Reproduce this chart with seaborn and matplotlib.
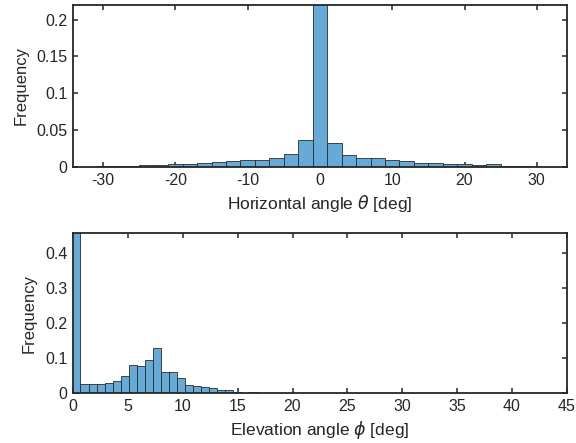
import matplotlib
matplotlib.use('Agg')
import matplotlib.pyplot as plt
import seaborn as sns

sns.set_style('ticks')
plt.rcParams['font.family'] = ['Liberation Sans', 'DejaVu Sans']
plt.rcParams['mathtext.fontset'] = 'dejavusans'
plt.rcParams['axes.unicode_minus'] = False

# ===============================
# Data
# ===============================
# Horizontal angle: 2 deg bins centred on even numbers
theta_centers = [-30, -28, -26, -24, -22, -20, -18, -16, -14, -12, -10, -8, -6, -4, -2,
                 0, 2, 4, 6, 8, 10, 12, 14, 16, 18, 20, 22, 24, 26, 28]
theta_freq = [0.0009, 0.0012, 0.0016, 0.0024, 0.0030, 0.0042, 0.0043, 0.0052, 0.0073, 0.0080,
              0.0093, 0.0098, 0.0125, 0.0170, 0.0362,
              0.75, 0.0325, 0.0157, 0.0125, 0.0120, 0.0098, 0.0075, 0.0057, 0.0060, 0.0045,
              0.0040, 0.0033, 0.0037, 0.0020, 0.0020]
theta_edges = [-31, -29, -27, -25, -23, -21, -19, -17, -15, -13, -11, -9, -7, -5, -3, -1,
               1, 3, 5, 7, 9, 11, 13, 15, 17, 19, 21, 23, 25, 27, 29]

# Elevation angle: bins of about 0.733 deg
phi_width = 0.733
phi_start = -0.066
phi_freq = [0.50, 0.0267, 0.0267, 0.0276, 0.0305, 0.0352, 0.0495, 0.0819, 0.0771, 0.0943,
            0.131, 0.060, 0.060, 0.0429, 0.025, 0.0225, 0.018, 0.014, 0.010, 0.0085,
            0.0048, 0.0025, 0.004, 0.0015, 0.001]

phi_edges = [phi_start + phi_width * i for i in range(len(phi_freq) + 1)]
phi_centers = [(a + b) / 2 for a, b in zip(phi_edges[:-1], phi_edges[1:])]

bar_color = '#66AAD7'
edge_color = '#2b2b2b'
spine_color = '#262626'

fig = plt.figure(figsize=(5.76, 4.43), dpi=100)
ax1 = fig.add_axes([0.127, 0.623, 0.857, 0.366])
ax2 = fig.add_axes([0.127, 0.112, 0.857, 0.361])

# ===============================
# 1. Horizontal angle histogram
# ===============================
sns.histplot(x=theta_centers, weights=theta_freq, bins=theta_edges, ax=ax1,
             color=bar_color, alpha=1, edgecolor=edge_color, linewidth=0.6)
ax1.set_xlim(-34.15, 34.15)
ax1.set_ylim(0, 0.22)
ax1.set_xticks([-30, -20, -10, 0, 10, 20, 30])
ax1.set_yticks([0, 0.05, 0.1, 0.15, 0.2])
ax1.set_yticklabels(['0', '0.05', '0.1', '0.15', '0.2'])
ax1.set_xlabel(r'Horizontal angle $\theta$ [deg]', fontsize=12.5, labelpad=4)
ax1.set_ylabel('Frequency', fontsize=12, labelpad=6)

# ===============================
# 2. Elevation angle histogram
# ===============================
sns.histplot(x=phi_centers, weights=phi_freq, bins=phi_edges, ax=ax2,
             color=bar_color, alpha=1, edgecolor=edge_color, linewidth=0.6)
ax2.set_xlim(0, 45)
ax2.set_ylim(0, 0.457)
ax2.set_xticks(range(0, 46, 5))
ax2.set_yticks([0, 0.1, 0.2, 0.3, 0.4])
ax2.set_yticklabels(['0', '0.1', '0.2', '0.3', '0.4'])
ax2.set_xlabel(r'Elevation angle $\phi$ [deg]', fontsize=12.5, labelpad=4)
ax2.set_ylabel('Frequency', fontsize=12, labelpad=6)

for ax in (ax1, ax2):
    for s in ax.spines.values():
        s.set_visible(True)
        s.set_color(spine_color)
        s.set_linewidth(1.3)
    ax.tick_params(direction='in', top=True, right=True, length=3.5, width=1.1,
                   color=spine_color, labelsize=11.5, labelcolor='#262626', pad=4)

fig.savefig('out.png', dpi=100)
